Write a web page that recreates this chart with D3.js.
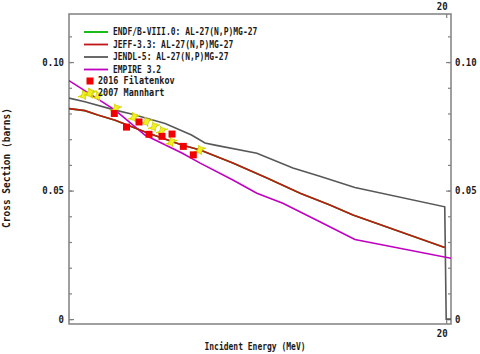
<!DOCTYPE html>
<html><head><meta charset="utf-8">
<script src="https://cdn.jsdelivr.net/npm/d3@7"></script>
<style>
html,body{margin:0;padding:0;background:#fff;}
text{font-family:"DejaVu Sans Mono",monospace;font-weight:bold;fill:#1a1a1a;}
</style></head>
<body><svg id="c" width="480" height="354"></svg>
<script>
// ---- data ----
const jendlE  = [12.15,12.48,13.11,13.45,14.15,14.70,14.98,15.19,16.06,16.81,17.37,18.10,19.97,20.0,20.1];
const jendlXS = [0.0860,0.0846,0.0813,0.0798,0.0761,0.0716,0.0685,0.0677,0.0645,0.0588,0.0556,0.0512,0.0437,0,0];
const jeffE   = [12.15,12.48,12.75,13.11,13.79,14.50,14.88,15.56,16.27,16.96,17.58,18.06,19.97];
const jeffXS  = [0.0819,0.0811,0.0794,0.0774,0.0724,0.0677,0.0658,0.0607,0.0549,0.0490,0.0444,0.0405,0.0279];
const endfE   = jeffE.slice();
const endfXS  = jeffXS.slice();
const empireE  = [12.15,13.11,13.73,14.50,14.88,15.56,16.06,16.60,17.37,18.10,20.10];
const empireXS = [0.0928,0.0813,0.0716,0.0646,0.0607,0.0541,0.0490,0.0451,0.0379,0.0310,0.0237];
const filE  = [13.093,13.347,13.607,13.815,14.085,14.294,14.529,14.737];
const filXS = [0.0800,0.0747,0.0767,0.0719,0.0711,0.0720,0.0672,0.0639];
const manE  = [12.462,12.608,12.754,13.128,13.503,13.763,13.919,14.085,14.283,14.876];
const manXS = [0.0872,0.0879,0.0868,0.0819,0.0786,0.0768,0.0749,0.0732,0.0689,0.0658];
const yMajorTicks = [0, 0.05, 0.10];
const yMajorLabels = ["0", "0.05", "0.10"];
const xTickValues = [20];
const xTickLabels = ["20"];
const legendLabels = ["ENDF/B-VIII.0: AL-27(N,P)MG-27","JEFF-3.3: AL-27(N,P)MG-27","JENDL-5: AL-27(N,P)MG-27","EMPIRE 3.2","2016 Filatenkov","2007 Mannhart"];

// ---- layout ----
const L=69, R=451, T=14, B=324;
const x = d3.scaleLinear().domain([12.15,20.1]).range([L,R]);
const y = d3.scaleLinear().domain([-0.0019,0.1187]).range([B,T]);
const svg = d3.select("#c");
const frameColor = "#808080";

function txt(px, py, str, size, anchor, sy){
  return svg.append("text").attr("transform",`translate(${px},${py}) scale(1,${sy||1.2})`)
    .attr("text-anchor",anchor||"start").attr("font-size",size).text(str);
}

svg.append("clipPath").attr("id","clip").append("rect")
  .attr("x",L).attr("y",T).attr("width",R-L).attr("height",B-T);

// frame
svg.append("rect").attr("x",L).attr("y",T).attr("width",R-L).attr("height",B-T)
  .attr("fill","none").attr("stroke",frameColor).attr("stroke-width",1.5);

// y axes (left & right, inward ticks)
const minorTicks = d3.range(0, 0.1187, 0.01);
svg.append("g").attr("transform",`translate(${L},0)`)
  .call(d3.axisRight(y).tickValues(minorTicks).tickSize(3).tickFormat(""));
svg.append("g").attr("transform",`translate(${L},0)`)
  .call(d3.axisRight(y).tickValues(yMajorTicks).tickSize(5).tickFormat(""));
svg.append("g").attr("transform",`translate(${R},0)`)
  .call(d3.axisLeft(y).tickValues(minorTicks).tickSize(3).tickFormat(""));
svg.append("g").attr("transform",`translate(${R},0)`)
  .call(d3.axisLeft(y).tickValues(yMajorTicks).tickSize(5).tickFormat(""));
// x ticks top & bottom
svg.append("g").attr("transform",`translate(0,${B})`).call(d3.axisTop(x).tickValues(xTickValues).tickSize(4).tickFormat(""));
svg.append("g").attr("transform",`translate(0,${T})`).call(d3.axisBottom(x).tickValues(xTickValues).tickSize(4).tickFormat(""));
svg.selectAll(".domain").remove();
svg.selectAll(".tick line").attr("stroke",frameColor).attr("stroke-width",1.2);

// tick labels
yMajorTicks.forEach((v,i)=>{
  txt(64, y(v)+3.8, yMajorLabels[i], 9, "end");
  txt(455, y(v)+3.8, yMajorLabels[i], 9, "start");
});
xTickValues.forEach((v,i)=>{
  txt(x(v)-4, 10, xTickLabels[i], 9, "middle");
  txt(x(v)-4, 337, xTickLabels[i], 9, "middle");
});

// axis titles
txt(255, 350, "Incident Energy (MeV)", 8, "middle");
svg.append("text").attr("transform","translate(10,168) rotate(-90) scale(1,1.15)").attr("text-anchor","middle")
  .attr("font-size",9.5).text("Cross Section (barns)");

// curves
const plot = svg.append("g").attr("clip-path","url(#clip)");
const line = d3.line().x(d=>x(d[0])).y(d=>y(d[1]));
const series = [
  {E:endfE, XS:endfXS, color:"#00b400"},
  {E:jendlE, XS:jendlXS, color:"#585858"},
  {E:empireE, XS:empireXS, color:"#c000c0"},
  {E:jeffE, XS:jeffXS, color:"#c01818"}
];
series.forEach(s=>{
  plot.append("path").datum(s.E.map((e,i)=>[e,s.XS[i]]))
    .attr("d",line).attr("fill","none").attr("stroke",s.color).attr("stroke-width",1.6);
});

// Mannhart markers
function manMarker(g, cx, cy){
  g.append("path").attr("d",`M${cx-6},${cy+2}L${cx+6},${cy-2}M${cx-1.5},${cy-5}L${cx+1.5},${cy+5}`)
    .attr("stroke","#d8d800").attr("stroke-width",1.3).attr("fill","none");
  g.append("path").attr("d",`M${cx-3.5},${cy+2.5}L${cx-1},${cy-3.5}L${cx+3.5},${cy-2.5}L${cx+1},${cy+3.5}Z`)
    .attr("fill","#f0f020").attr("stroke","#c8c800").attr("stroke-width",0.6);
}
const mg = plot.append("g");
manE.forEach((e,i)=>manMarker(mg, x(e), y(manXS[i])));
// Filatenkov squares
plot.selectAll("rect.fil").data(filE.map((e,i)=>[e,filXS[i]])).enter().append("rect")
  .attr("class","fil").attr("x",d=>x(d[0])-3.5).attr("y",d=>y(d[1])-3.5)
  .attr("width",7).attr("height",7).attr("fill","#f00000");

// legend
const legColors = ["#00b400","#c01818","#585858","#c000c0"];
const legY = [32,44.5,57,69.5,81,93];
legColors.forEach((c,i)=>{
  svg.append("line").attr("x1",84).attr("x2",108).attr("y1",legY[i]).attr("y2",legY[i])
    .attr("stroke",c).attr("stroke-width",1.8);
  txt(113, legY[i]+3.3, legendLabels[i], 8);
});
svg.append("rect").attr("x",86.5).attr("y",legY[4]-3.5).attr("width",7).attr("height",7).attr("fill","#f00000");
txt(98, legY[4]+3.3, legendLabels[4], 8.5);
manMarker(svg, 90, legY[5]);
txt(98, legY[5]+3.3, legendLabels[5], 8.5);
</script></body></html>
